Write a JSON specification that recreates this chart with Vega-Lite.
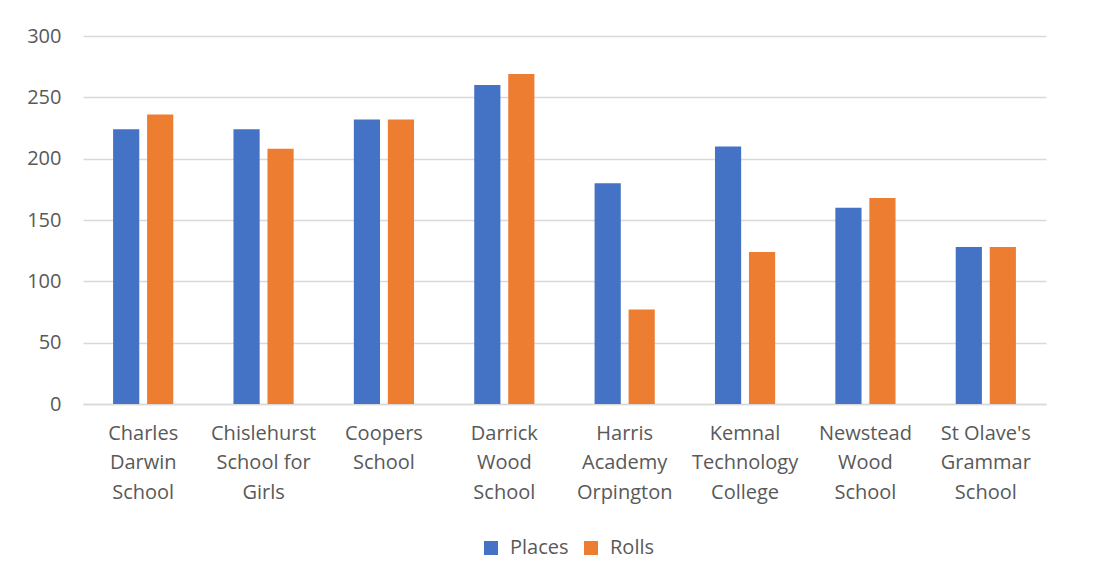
{
  "$schema": "https://vega.github.io/schema/vega-lite/v6.json",
  "autosize": {"type": "none"},
  "width": 963,
  "height": 368,
  "padding": {"left": 83, "top": 36, "right": 63, "bottom": 179},
  "background": "white",
  "config": {
    "font": "Open Sans",
    "view": {"stroke": null},
    "axis": {"labelFont": "Open Sans", "labelColor": "#595959", "labelFontSize": 20}
  },
  "data": {
    "values": [
      {"school": "Charles Darwin School", "series": "Places", "value": 224},
      {"school": "Charles Darwin School", "series": "Rolls", "value": 236},
      {"school": "Chislehurst School for Girls", "series": "Places", "value": 224},
      {"school": "Chislehurst School for Girls", "series": "Rolls", "value": 208},
      {"school": "Coopers School", "series": "Places", "value": 232},
      {"school": "Coopers School", "series": "Rolls", "value": 232},
      {"school": "Darrick Wood School", "series": "Places", "value": 260},
      {"school": "Darrick Wood School", "series": "Rolls", "value": 269},
      {"school": "Harris Academy Orpington", "series": "Places", "value": 180},
      {"school": "Harris Academy Orpington", "series": "Rolls", "value": 77},
      {"school": "Kemnal Technology College", "series": "Places", "value": 210},
      {"school": "Kemnal Technology College", "series": "Rolls", "value": 124},
      {"school": "Newstead Wood School", "series": "Places", "value": 160},
      {"school": "Newstead Wood School", "series": "Rolls", "value": 168},
      {"school": "St Olave's Grammar School", "series": "Places", "value": 128},
      {"school": "St Olave's Grammar School", "series": "Rolls", "value": 128}
    ]
  },
  "mark": {"type": "bar"},
  "encoding": {
    "x": {
      "field": "school",
      "type": "nominal",
      "sort": null,
      "scale": {"paddingInner": 0.5, "paddingOuter": 0.25},
      "axis": {
        "title": null,
        "labelAngle": 0,
        "ticks": false,
        "domain": true,
        "domainColor": "#d9d9d9",
        "domainWidth": 1.5,
        "labelPadding": 19,
        "labelLineHeight": 29.5,
        "labelBaseline": "top",
        "labelExpr": "datum.value == 'Charles Darwin School' ? ['Charles','Darwin','School'] : datum.value == 'Chislehurst School for Girls' ? ['Chislehurst','School for','Girls'] : datum.value == 'Coopers School' ? ['Coopers','School'] : datum.value == 'Darrick Wood School' ? ['Darrick','Wood','School'] : datum.value == 'Harris Academy Orpington' ? ['Harris','Academy','Orpington'] : datum.value == 'Kemnal Technology College' ? ['Kemnal','Technology','College'] : datum.value == 'Newstead Wood School' ? ['Newstead','Wood','School'] : ['St Olave\\'s','Grammar','School']"
      }
    },
    "xOffset": {
      "field": "series",
      "type": "nominal",
      "scale": {"paddingInner": 0.23, "paddingOuter": 0}
    },
    "y": {
      "field": "value",
      "type": "quantitative",
      "scale": {"domain": [0, 300], "nice": false},
      "axis": {
        "title": null,
        "values": [0, 50, 100, 150, 200, 250, 300],
        "ticks": false,
        "domain": false,
        "gridColor": "#d9d9d9",
        "gridWidth": 1.5,
        "labelPadding": 22
      }
    },
    "color": {
      "field": "series",
      "type": "nominal",
      "scale": {"domain": ["Places", "Rolls"], "range": ["#4472C4", "#ED7D31"]},
      "legend": {
        "title": null,
        "orient": "none",
        "legendX": 398,
        "legendY": 502,
        "direction": "horizontal",
        "symbolType": "square",
        "symbolSize": 196,
        "symbolStrokeWidth": 0,
        "labelFontSize": 20,
        "labelColor": "#595959",
        "labelFont": "Open Sans",
        "columnPadding": 12,
        "labelOffset": 9
      }
    }
  }
}
